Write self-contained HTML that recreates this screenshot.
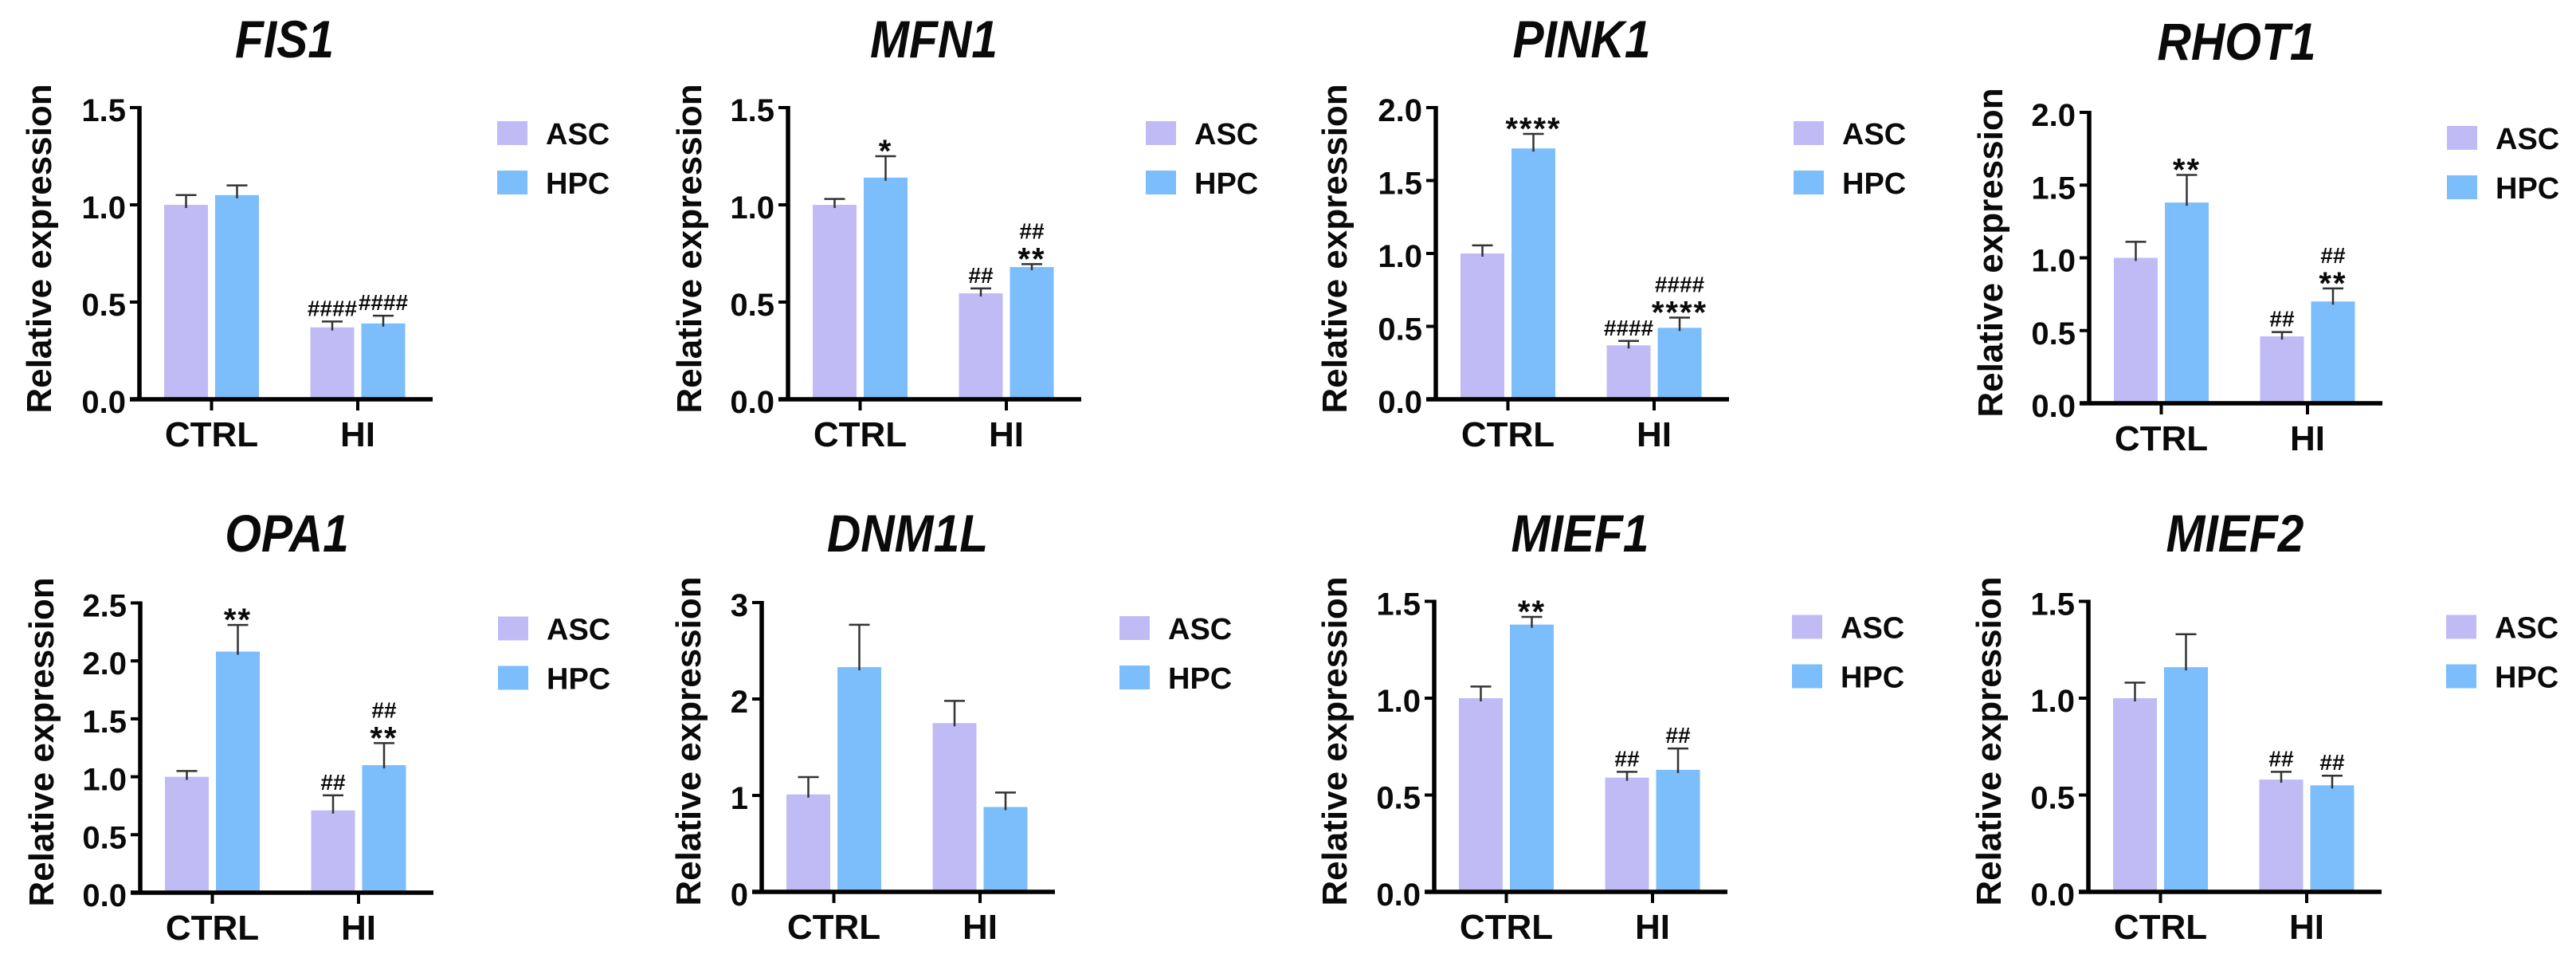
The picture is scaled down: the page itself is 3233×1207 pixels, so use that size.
<!DOCTYPE html>
<html lang="en">
<head>
<meta charset="utf-8">
<title>Relative expression panels</title>
<style>
html,body{margin:0;padding:0;background:#fff;width:3233px;height:1207px;overflow:hidden}
svg{display:block}
text{font-family:"Liberation Sans",Arial,sans-serif;fill:#0a0a0a;font-weight:bold}
</style>
</head>
<body>
<svg id="chart" xmlns="http://www.w3.org/2000/svg" width="3233" height="1207" viewBox="0 0 3233 1207"></svg>
<script>
/* ---------- data ---------- */
const panelTitles = ["FIS1","MFN1","PINK1","RHOT1","OPA1","DNM1L","MIEF1","MIEF2"];
const categories = ["CTRL","HI"];
const seriesNames = ["ASC","HPC"];
const yAxisTitle = "Relative expression";
const tickLabels = [
  ["0.0","0.5","1.0","1.5"],
  ["0.0","0.5","1.0","1.5"],
  ["0.0","0.5","1.0","1.5","2.0"],
  ["0.0","0.5","1.0","1.5","2.0"],
  ["0.0","0.5","1.0","1.5","2.0","2.5"],
  ["0","1","2","3"],
  ["0.0","0.5","1.0","1.5"],
  ["0.0","0.5","1.0","1.5"]
];
/* each row: [CTRL, HI] */
const ascMeans = [[1.0,0.37],[1.0,0.545],[1.0,0.37],[1.0,0.46],[1.0,0.71],[1.01,1.75],[1.0,0.59],[1.0,0.58]];
const hpcMeans = [[1.05,0.39],[1.14,0.68],[1.72,0.49],[1.38,0.70],[2.08,1.10],[2.33,0.88],[1.38,0.63],[1.16,0.55]];
const ascErrorTops = [[1.05,0.40],[1.03,0.57],[1.055,0.40],[1.11,0.49],[1.05,0.84],[1.19,1.98],[1.06,0.62],[1.08,0.62]];
const hpcErrorTops = [[1.10,0.43],[1.25,0.695],[1.82,0.56],[1.57,0.79],[2.31,1.29],[2.77,1.03],[1.42,0.74],[1.33,0.60]];
/* significance labels, stacked upward from the error cap */
const ascMarks = [
  [[],["####"]],[[],["##"]],[[],["####"]],[[],["##"]],
  [[],["##"]],[[],[]],[[],["##"]],[[],["##"]]
];
const hpcMarks = [
  [[],["####"]],[["*"],["**","##"]],[["****"],["****","####"]],[["**"],["**","##"]],
  [["**"],["**","##"]],[[],[]],[["**"],["##"]],[[],["##"]]
];

/* ---------- layout (not data) ---------- */
const panelAxisLeft = [175,989,1802,2622,176,956,1800,2621];
const panelAxisTop = [135,135,135,141,756.5,756,754.5,754.5];
const panelAxisBottom = [501,501,501,506,1120,1119,1119,1119];
const panelTitleCenter = [357,1172,1985,2807,360,1139,1983,2805];
const panelTitleBaseline = [72,72,72,75,692,692,692,692];
const panelYTitleGap = [111,109,112,109,109,77,110,110];
const seriesColors = ["#C0BBF5","#7CBDFB"];

const NS = "http://www.w3.org/2000/svg";
const root = document.getElementById("chart");
function make(tag, parent, attrs, txt){
  const n = document.createElementNS(NS, tag);
  for(const k in attrs){ n.setAttribute(k, attrs[k]); }
  if(txt !== undefined){ n.textContent = txt; }
  parent.appendChild(n);
  return n;
}

panelTitles.forEach(function(title, p){
  const left = panelAxisLeft[p], top = panelAxisTop[p], bottom = panelAxisBottom[p];
  const ticks = tickLabels[p];
  const yMax = parseFloat(ticks[ticks.length-1]);
  const yScale = function(v){ return bottom - (v/yMax)*(bottom-top); };
  const xScale = function(i){ return left + 90.5 + 183.5*i; };
  const slug = title.toLowerCase();

  const g = make("g", root, {});
  
  

  const t = make("text", g, {x:0, y:0, "text-anchor":"middle", "font-size":66, "font-style":"italic", transform:"translate("+panelTitleCenter[p]+" "+panelTitleBaseline[p]+") scale(0.89 1)"}, title);
  
  

  const yTitleX = left - panelYTitleGap[p], yTitleY = bottom - 189;
  const yt = make("text", g, {x:yTitleX, y:yTitleY, "text-anchor":"middle", "font-size":44, transform:"rotate(-90 "+yTitleX+" "+yTitleY+")"}, yAxisTitle);
  
  

  /* bars and error bars */
  const means = [ascMeans[p], hpcMeans[p]];
  const tops = [ascErrorTops[p], hpcErrorTops[p]];
  const marks = [ascMarks[p], hpcMarks[p]];
  categories.forEach(function(cat, c){
    seriesNames.forEach(function(ser, s){
      const cx = xScale(c) + (s === 0 ? -32 : 32);
      const yBar = yScale(means[s][c]);
      const bar = make("rect", g, {x:cx-27.5, y:yBar, width:55, height:bottom-yBar, fill:seriesColors[s]});
      
      

      const yErr = yScale(tops[s][c]);
      const stem = make("line", g, {x1:cx, x2:cx, y1:yBar+4, y2:yErr, stroke:"#333", "stroke-width":2.5});
      
      
      const cap = make("line", g, {x1:cx-13, x2:cx+13, y1:yErr, y2:yErr, stroke:"#333", "stroke-width":2.5});
      
      

      let center = yErr, prevStar = false;
      marks[s][c].forEach(function(label){
        const isStar = label.charAt(0) === "*";
        center -= isStar ? 16 : (prevStar ? 26 : 17);
        const m = make("text", g, {x:cx, y:center + (isStar ? 23 : 10), "text-anchor":"middle", "font-size":isStar ? 40 : 28, "letter-spacing":isStar ? 2 : 0}, label);
        
        
        prevStar = isStar;
      });
    });
  });

  /* y axis */
  const yAxis = make("line", g, {x1:left, x2:left, y1:top-2, y2:bottom+2.5, stroke:"#000", "stroke-width":5.5});
  
  
  ticks.forEach(function(lab){
    const y = yScale(parseFloat(lab));
    const tk = make("line", g, {x1:left-12, x2:left, y1:y, y2:y, stroke:"#000", "stroke-width":4});
    
    
    const tl = make("text", g, {x:left-17, y:y+17, "text-anchor":"end", "font-size":40}, lab);
    
    
  });

  /* x axis */
  const xAxis = make("line", g, {x1:left-12, x2:left+368, y1:bottom, y2:bottom, stroke:"#000", "stroke-width":5.5});
  
  
  categories.forEach(function(cat, c){
    const x = xScale(c);
    const tk = make("line", g, {x1:x, x2:x, y1:bottom, y2:bottom+14, stroke:"#000", "stroke-width":4});
    
    
    const tl = make("text", g, {x:x, y:bottom+59, "text-anchor":"middle", "font-size":44}, cat);
    
    
  });

  /* legend */
  seriesNames.forEach(function(ser, s){
    const ly = top + 17 + 62*s;
    const sw = make("rect", g, {x:left+449, y:ly, width:38, height:30, fill:seriesColors[s]});
    
    
    const lt = make("text", g, {x:left+510, y:ly+29, "font-size":38}, ser);
    
    
  });
});
</script>
</body>
</html>
